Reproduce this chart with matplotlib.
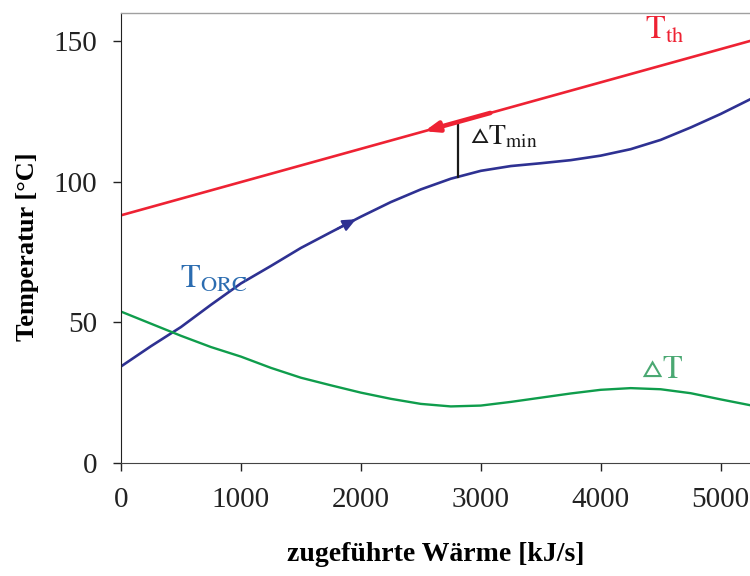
import numpy as np
from matplotlib import pyplot as plt

# zugefuehrte Waerme [kJ/s]
q = [0, 250, 500, 750, 1000, 1250, 1500, 1750, 2000, 2250, 2500, 2750,
     3000, 3250, 3500, 3750, 4000, 4250, 4500, 4750, 5000, 5250]
t_orc = [34.3, 41.5, 48.3, 56.2, 63.8, 70.0, 76.4, 82.0, 87.5, 92.7, 97.2, 101.0,
         103.8, 105.5, 106.5, 107.6, 109.2, 111.5, 114.8, 119.2, 124.0, 129.3]
delta_t = [53.8, 49.5, 45.2, 41.2, 37.8, 33.8, 30.3, 27.6, 25.0, 22.8, 21.0, 20.1,
           20.4, 21.7, 23.2, 24.7, 26.0, 26.6, 26.2, 24.8, 22.6, 20.5]
q_th = [0, 5250]
t_th = [88.0, 150.0]

x_ticks = [0, 1000, 2000, 3000, 4000, 5000]
y_ticks = [0, 50, 100, 150]

RED = "#ee2233"
BLUE = "#2e3192"
GREEN = "#0f9d4c"

plt.rcParams["font.family"] = ["Liberation Serif", "DejaVu Serif"]
plt.rcParams["mathtext.fontset"] = "stix"

fig = plt.figure(figsize=(7.5, 5.76), dpi=100)
ax = fig.add_axes([0.1613, 0.1962, 0.8387, 0.7818])

ax.plot(q_th, t_th, color=RED, lw=1.9, solid_capstyle="butt")
ax.plot(q, t_orc, color=BLUE, lw=1.9)
ax.plot(q, delta_t, color=GREEN, lw=1.7)

# arrows on the lines
def th_at(x):
    return np.interp(x, q_th, t_th)

def orc_at(x):
    return np.interp(x, q, t_orc)

ax.annotate("", xy=(2530, th_at(2530)), xytext=(3080, th_at(3080)),
            arrowprops=dict(arrowstyle="-|>,head_length=0.8,head_width=0.3",
                            color=RED, lw=3.3, shrinkA=0, shrinkB=0))
ax.annotate("", xy=(1960, orc_at(1960)), xytext=(1800, orc_at(1800)),
            arrowprops=dict(arrowstyle="-|>,head_length=0.8,head_width=0.35",
                            color=BLUE, lw=1.5, shrinkA=0, shrinkB=0))

# Delta T min marker
q_pinch = 2810
ax.plot([q_pinch, q_pinch], [orc_at(q_pinch), th_at(q_pinch)], color="#1a1a1a", lw=1.6)

ax.text(2910, 113.1, r"$\vartriangle\mathrm{T}_{\mathrm{min}}$", fontsize=20,
        color="#1a1a1a", ha="left", va="baseline")
ax.text(4533, 153.5, r"$\mathrm{T}_{\mathrm{th}}$", fontsize=23, color=RED,
        ha="center", va="center")
ax.text(492, 62.4, r"$\mathrm{T}_{\mathrm{ORC}}$", fontsize=23, color="#2b6cb0",
        ha="left", va="baseline")
ax.text(4508, 32.7, r"$\vartriangle\mathrm{T}$", fontsize=23, color="#4aa872",
        ha="center", va="center")

ax.set_xlim(0, 5245)
ax.set_ylim(0, 160)
ax.set_xticks(x_ticks)
ax.set_yticks(y_ticks)
ax.tick_params(direction="out", length=6, width=1, labelsize=21, pad=11, colors="#222222")

ax.spines["right"].set_visible(False)
ax.spines["top"].set_color("#a0a0a0")
ax.spines["top"].set_linewidth(1.0)
ax.spines["left"].set_color("#222222")
ax.spines["bottom"].set_color("#444444")

ax.set_xlabel("zugeführte Wärme [kJ/s]", fontsize=20, fontweight="bold")
ax.set_ylabel("Temperatur [°C]", fontsize=19, fontweight="bold")
ax.xaxis.set_label_coords(0.5, -0.175)
ax.yaxis.set_label_coords(-0.13, 0.48)

fig.savefig("out.png", dpi=100)
